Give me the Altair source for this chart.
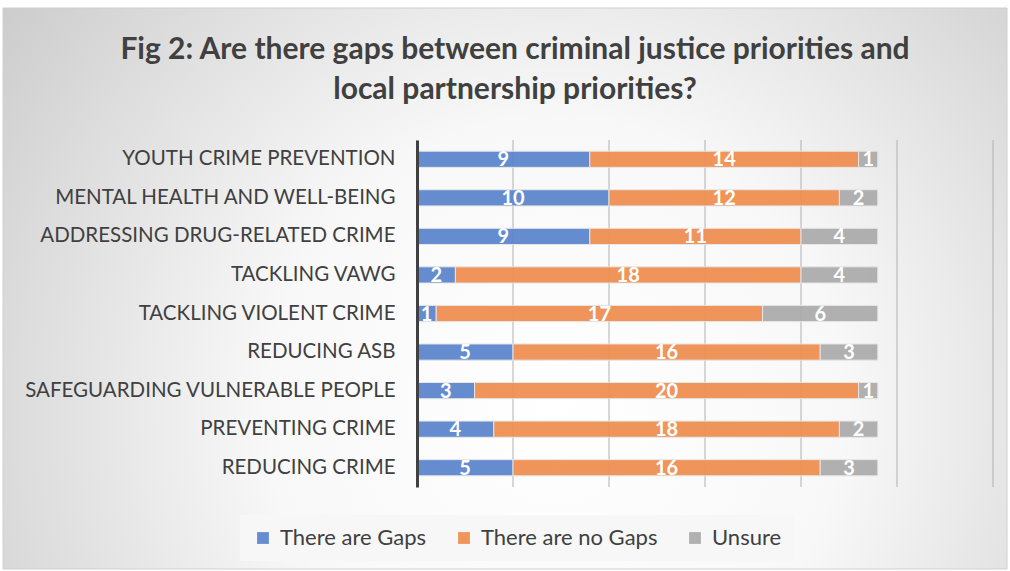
import altair as alt
import pandas as pd

title_lines = ["Fig 2: Are there gaps between criminal justice priorities and",
               "local partnership priorities?"]
categories = [
    "YOUTH CRIME PREVENTION",
    "MENTAL HEALTH AND WELL-BEING",
    "ADDRESSING DRUG-RELATED CRIME",
    "TACKLING VAWG",
    "TACKLING VIOLENT CRIME",
    "REDUCING ASB",
    "SAFEGUARDING VULNERABLE PEOPLE",
    "PREVENTING CRIME",
    "REDUCING CRIME",
]
series = ["There are Gaps", "There are no Gaps", "Unsure"]
gaps = [9, 10, 9, 2, 1, 5, 3, 4, 5]
no_gaps = [14, 12, 11, 18, 17, 16, 20, 18, 16]
unsure = [1, 2, 4, 4, 6, 3, 1, 2, 3]
grid_values = [0, 5, 10, 15, 20, 25, 30]
colors = ["#5B84CD", "#EF8E4F", "#ABABAB"]

rows = []
for i, c in enumerate(categories):
    for j, (s, vals) in enumerate(zip(series, [gaps, no_gaps, unsure])):
        rows.append({"category": c, "series": s, "value": vals[i], "order": j})
df = pd.DataFrame(rows)

FONT = "Lato"
W, H = 576, 347
PL, PT = 417, 140

xscale = alt.Scale(domain=[0, 30], nice=False)

base = alt.Chart(df).transform_stack(
    stack="value", groupby=["category"], as_=["x0", "x1"],
    sort=[alt.SortField("order", order="ascending")]
).transform_calculate(mid="(datum.x0 + datum.x1) / 2")

yenc = alt.Y("category:N", sort=categories, title=None,
             scale=alt.Scale(paddingInner=0.58, paddingOuter=0.29),
             axis=alt.Axis(zindex=1, labelFont=FONT, labelFontSize=20.5, labelColor="#404040",
                           labelPadding=22, ticks=False, domain=True, domainColor="#404040",
                           domainWidth=3, labelLimit=420, grid=False))

bg = alt.Chart(pd.DataFrame({"a": [0]})).mark_rect(
    color={"gradient": "radial", "x1": 0.55, "y1": 0.62, "r1": 0.0,
           "x2": 0.55, "y2": 0.62, "r2": 0.72,
           "stops": [{"offset": 0, "color": "#ffffff"},
                     {"offset": 0.4, "color": "#f8f8f8"},
                     {"offset": 1, "color": "#c8c8c8"}]},
    stroke="#d0d0d0", strokeWidth=1
).encode(
    x=alt.value(-PL + 3), x2=alt.value(1007 - PL),
    y=alt.value(-PT + 8), y2=alt.value(569 - PT),
)

grid = alt.Chart(pd.DataFrame({"g": grid_values})).mark_rule(
    color="#b0b0b0", strokeWidth=1
).encode(
    x=alt.X("g:Q", scale=xscale, title=None, axis=None),
    y=alt.value(0), y2=alt.value(H),
)

bars = base.mark_bar(stroke="#e6e6e6", strokeWidth=1, opacity=0.93).encode(
    x=alt.X("x0:Q", scale=xscale, title=None, axis=None),
    x2="x1:Q",
    y=yenc,
    color=alt.Color("series:N", sort=series,
                    scale=alt.Scale(domain=series, range=colors),
                    legend=alt.Legend(title=None, orient="none", direction="horizontal",
                                      legendX=-177, legendY=375,
                                      symbolType="square", symbolSize=140,
                                      symbolStrokeWidth=0,
                                      labelFont=FONT, labelFontSize=22, labelColor="#404040",
                                      labelLimit=300,
                                      columnPadding=26, labelOffset=6,
                                      fillColor="#f7f7f7", padding=12)),
    order=alt.Order("order:Q"),
)

labels = base.mark_text(color="white", font=FONT, fontWeight="bold", fontSize=20,
                        baseline="middle", align="center", dy=1).encode(
    x=alt.X("mid:Q", scale=xscale, axis=None),
    y=yenc,
    text=alt.Text("value:Q"),
)

title = alt.Chart(pd.DataFrame({"a": [0]})).mark_text(
    font=FONT, fontSize=30, fontWeight="bold", color="#404040",
    align="center", baseline="middle", lineHeight=40,
).encode(
    x=alt.value(515 - PL), y=alt.value(50 - PT),
    text=alt.value(title_lines),
)

chart = alt.layer(bg, grid, bars, labels, title).properties(
    width=W, height=H,
    autosize=alt.AutoSizeParams(type="none"),
    padding={"left": PL, "top": PT, "right": 1010 - PL - W, "bottom": 571 - PT - H},
    background="white",
).configure_view(stroke=None)

chart.save("out.html", embed_options={"renderer": "svg", "actions": False})
